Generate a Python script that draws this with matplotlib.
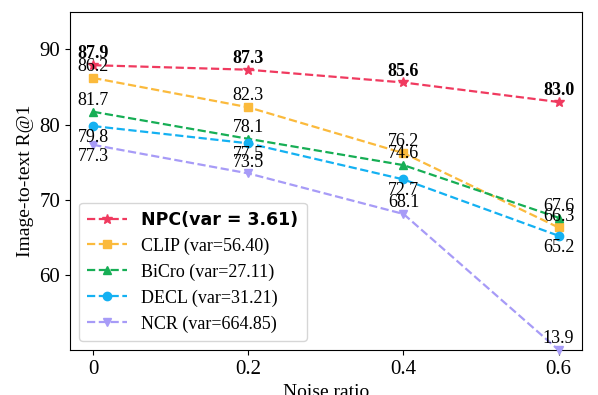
import matplotlib.pyplot as plt
import numpy as np

plt.rcParams['font.family'] = ['Liberation Serif', 'DejaVu Serif']
plt.rcParams['mathtext.fontset'] = 'stix'

noise = [0, 0.2, 0.4, 0.6]
npc = [87.9, 87.3, 85.6, 83.0]
clip = [86.2, 82.3, 76.2, 66.3]
bicro = [81.7, 78.1, 74.6, 67.6]
decl = [79.8, 77.5, 72.7, 65.2]
ncr = [77.3, 73.5, 68.1, 13.9]

names = ['NPC(var = 3.61)', 'CLIP (var=56.40)', 'BiCro (var=27.11)',
         'DECL (var=31.21)', 'NCR (var=664.85)']
series = [npc, clip, bicro, decl, ncr]
colors = ['#F03A5F', '#FBBA3C', '#17AE55', '#14B1F2', '#A79BF7']
markers = ['*', 's', '^', 'o', 'v']
# label above (+1) or below (-1) each point
label_side = [
    [1, 1, 1, 1],
    [1, 1, 1, 1],
    [1, 1, 1, 1],
    [-1, -1, -1, -1],
    [-1, 1, 1, 1],
]

y_lo, y_hi = 50, 95

fig = plt.figure(figsize=(5.98, 3.95), dpi=100)
ax = fig.add_axes([0.117, 0.114, 0.856, 0.856])

for i, vals in enumerate(series):
    shown = np.maximum(np.array(vals), y_lo)  # NCR 0.6 sits below the axis floor
    ax.plot(noise, shown, linestyle='--', color=colors[i], marker=markers[i],
            markersize=6 if markers[i] != '*' else 7, linewidth=1.6,
            label=names[i], clip_on=False, zorder=3)
    for j, v in enumerate(vals):
        bold = i == 0
        side = label_side[i][j]
        ax.annotate(f'{v:.1f}', (noise[j], shown[j]),
                    xytext=(0, 2 if side > 0 else -2), textcoords='offset points',
                    ha='center', va='bottom' if side > 0 else 'top',
                    fontsize=13, fontweight='bold' if bold else 'normal',
                    zorder=4)

ax.set_ylim(y_lo, y_hi)
ax.set_xticks(noise)
ax.set_xticklabels(['0', '0.2', '0.4', '0.6'])
ax.set_yticks([60, 70, 80, 90])
ax.tick_params(labelsize=15)
ax.set_xlabel('Noise ratio', fontsize=14, labelpad=4)
ax.set_ylabel('Image-to-text R@1', fontsize=14)

leg = ax.legend(loc='lower left', fontsize=13, handlelength=2.2,
                borderpad=0.45, labelspacing=0.48, framealpha=0.8)
leg.get_texts()[0].set_fontfamily('DejaVu Sans')
leg.get_texts()[0].set_fontweight('bold')
leg.get_texts()[0].set_fontsize(12.5)

fig.savefig('out.png', dpi=100)
